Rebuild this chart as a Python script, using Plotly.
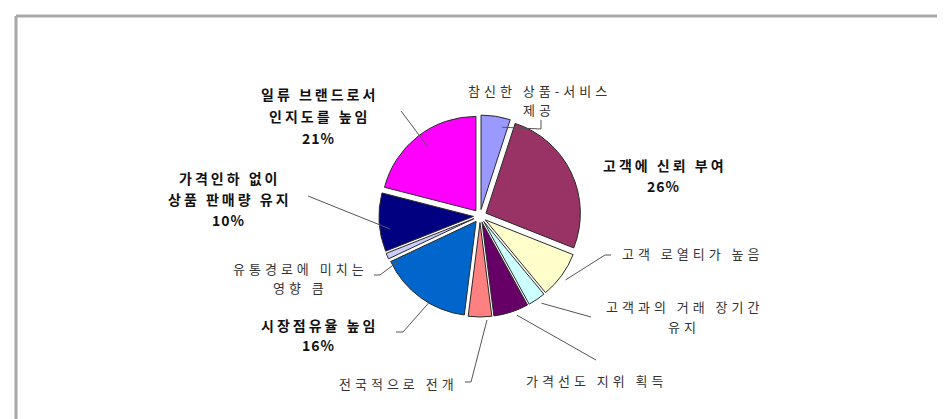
import math
import plotly.graph_objects as go

# ---- data ----
labels = [
    "참신한 상품-서비스\n제공",
    "고객에 신뢰 부여",
    "고객 로열티가 높음",
    "고객과의 거래 장기간\n유지",
    "가격선도 지위 획득",
    "전국적으로 전개",
    "시장점유율 높임",
    "유통경로에 미치는\n영향 큼",
    "가격인하 없이\n상품 판매량 유지",
    "일류 브랜드로서\n인지도를 높임",
]
values = [5, 26, 8, 3, 6, 4, 16, 1, 10, 21]
show_pct = [False, True, False, False, False, False, True, False, True, True]
colors = ["#9999FF", "#993366", "#FFFFCC", "#CCFFFF", "#660066",
          "#FF8080", "#0066CC", "#CCCCFF", "#000080", "#FF00FF"]

# ---- layout (pixels) ----
W, H = 945, 419
VCX, VCY = 479, 215          # visual pie centre
CX, CY, RAD = 472, 208, 101  # domain centre / half size
PULL = 0.07
# (center x, y of first line, line step)
label_pos = [(529, 82, 20), (655, 157, 21), (683, 245, 20), (674, 298, 20),
             (587, 372, 20), (388, 375, 20), (310, 317, 20), (290, 260, 19),
             (220, 170, 21), (310, 86, 22)]
leader_pts = [
    [(533, 121), (533, 112)],
    None,
    [(597, 247), (603, 247)],
    [(583, 309)],
    [(588, 352)],
    [(463, 374), (457, 374)],
    [(395, 324), (388, 324)],
    [(372, 267), (366, 267)],
    [(300, 188)],
    [(393, 103)],
]


def px(x):
    return x / W


def py(y):
    return 1 - y / H


fig = go.Figure()
fig.add_trace(go.Pie(
    labels=[l.replace("\n", " ") for l in labels],
    values=values,
    sort=False,
    direction="clockwise",
    rotation=0,
    pull=[PULL] * len(values),
    marker=dict(colors=colors, line=dict(color="#2a2a2a", width=1)),
    textinfo="none",
    hoverinfo="skip",
    showlegend=False,
    domain=dict(x=[px(CX - RAD), px(CX + RAD)], y=[py(CY + RAD), py(CY - RAD)]),
))

total = sum(values)
cum = 0
shapes = []
annotations = []
for i, v in enumerate(values):
    mid = (cum + v / 2) / total * 2 * math.pi
    cum += v
    tip = (VCX + 0.96 * RAD * math.sin(mid), VCY - 0.96 * RAD * math.cos(mid))
    if leader_pts[i]:
        pts = [tip] + leader_pts[i]
        path = "M " + " L ".join(f"{px(x):.5f},{py(y):.5f}" for x, y in pts)
        shapes.append(dict(type="path", xref="paper", yref="paper", path=path,
                           line=dict(color="#555555", width=1)))
    lx, ly, step = label_pos[i]
    lines = labels[i].split("\n")
    if show_pct[i]:
        lines = lines + [f"{round(v / total * 100)}%"]
        font = dict(family="Noto Sans CJK KR", size=14, color="#111111")
    else:
        font = dict(family="Noto Sans CJK KR", size=13, color="#333333")
    for j, line in enumerate(lines):
        if show_pct[i]:
            sp = 1 if line.endswith("%") else 3
        else:
            sp = 4
        t = f'<span style="letter-spacing:{sp}px">{line}</span>'
        if show_pct[i]:
            t = f"<b>{t}</b>"
        annotations.append(dict(x=px(lx + sp / 2), y=py(ly + j * step),
                                xref="paper", yref="paper",
                                text=t, showarrow=False, font=font,
                                xanchor="center", yanchor="middle"))

# frame (left and top edges)
shapes.append(dict(type="line", xref="paper", yref="paper",
                   x0=px(8), y0=py(8), x1=px(W), y1=py(8),
                   line=dict(color="#a8a8a8", width=3)))
shapes.append(dict(type="line", xref="paper", yref="paper",
                   x0=px(8), y0=py(8), x1=px(8), y1=py(H),
                   line=dict(color="#a8a8a8", width=3)))

fig.update_layout(
    width=W, height=H,
    margin=dict(l=0, r=0, t=0, b=0),
    paper_bgcolor="white",
    plot_bgcolor="white",
    shapes=shapes,
    annotations=annotations,
)

fig.write_html("out.html")
